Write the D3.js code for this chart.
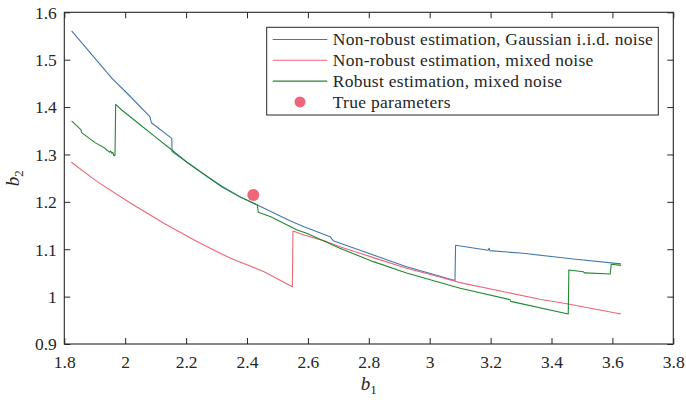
<!DOCTYPE html>
<html>
<head>
<meta charset="utf-8">
<script src="https://cdn.jsdelivr.net/npm/d3@7"></script>
<style>
  html, body { margin: 0; padding: 0; background: #fff; }
  svg { display: block; }
  text { font-family: "Liberation Serif", "DejaVu Serif", serif; fill: #262626; }
</style>
</head>
<body>
<svg id="chart" width="686" height="400"></svg>
<script>
// Estimated parameter paths (b1, b2)
const gaussianNonRobust = [
  [1.824, 1.561], [1.956, 1.461], [2.012, 1.4255], [2.081, 1.380], [2.086, 1.367],
  [2.153, 1.334], [2.154, 1.306], [2.207, 1.282], [2.262, 1.257], [2.317, 1.233],
  [2.377, 1.211], [2.456, 1.1864], [2.541, 1.160], [2.587, 1.1476], [2.673, 1.1265],
  [2.683, 1.118], [2.815, 1.088], [2.924, 1.063], [3.083, 1.034], [3.085, 1.1085],
  [3.192, 1.098], [3.195, 1.102], [3.198, 1.097], [3.307, 1.0914], [3.472, 1.0795],
  [3.628, 1.069]
];
const mixedNonRobust = [
  [1.823, 1.2835], [1.908, 1.2426], [2.018, 1.197], [2.127, 1.1548], [2.237, 1.116],
  [2.302, 1.0948], [2.346, 1.0809], [2.456, 1.0526], [2.549, 1.021], [2.551, 1.1385],
  [2.587, 1.130], [2.662, 1.116], [2.705, 1.1054], [2.815, 1.0823], [2.924, 1.060],
  [3.0, 1.047], [3.1, 1.0295], [3.362, 0.9944], [3.455, 0.9845], [3.628, 0.9634]
];
const mixedRobust = [
  [1.824, 1.371], [1.855, 1.352], [1.857, 1.346], [1.901, 1.325], [1.9337, 1.313],
  [1.9392, 1.3094], [1.9445, 1.3073], [1.9478, 1.3046], [1.9524, 1.3073], [1.9557, 1.3025],
  [1.959, 1.3046], [1.9632, 1.2974], [1.9665, 1.2989], [1.9688, 1.4059], [1.9885, 1.3938],
  [2.043, 1.3658], [2.098, 1.3375], [2.153, 1.3094], [2.207, 1.2814], [2.262, 1.2567],
  [2.317, 1.232], [2.377, 1.210], [2.434, 1.1934], [2.437, 1.178], [2.478, 1.1687],
  [2.565, 1.1406], [2.596, 1.1337], [2.705, 1.102], [2.815, 1.0738], [2.924, 1.050],
  [3.1, 1.0176], [3.264, 0.9935], [3.266, 0.9899], [3.455, 0.9634], [3.457, 1.0562],
  [3.504, 1.0526], [3.510, 1.050], [3.593, 1.0478], [3.596, 1.0683], [3.628, 1.066]
];
const trueParams = [[2.4207, 1.2145]];

const xTicks = [1.8, 2, 2.2, 2.4, 2.6, 2.8, 3, 3.2, 3.4, 3.6, 3.8];
const xTickLabels = ["1.8", "2", "2.2", "2.4", "2.6", "2.8", "3", "3.2", "3.4", "3.6", "3.8"];
const yTicks = [0.9, 1, 1.1, 1.2, 1.3, 1.4, 1.5, 1.6];
const yTickLabels = ["0.9", "1", "1.1", "1.2", "1.3", "1.4", "1.5", "1.6"];

const seriesNames = [
  "Non-robust estimation, Gaussian i.i.d. noise",
  "Non-robust estimation, mixed noise",
  "Robust estimation, mixed noise",
  "True parameters"
];
const seriesColors = ["#4477AA", "#EE6677", "#228833", "#EE6677"];

// Layout
const svg = d3.select("#chart");
const plotLeft = 64.3, plotRight = 673.3, plotTop = 12.3, plotBottom = 344;
const W = plotRight - plotLeft, H = plotBottom - plotTop;
const axisColor = "#262626";

const x = d3.scaleLinear().domain([1.8, 3.8]).range([0, W]);
const y = d3.scaleLinear().domain([0.9, 1.6]).range([H, 0]);

const g = svg.append("g").attr("transform", `translate(${plotLeft},${plotTop})`);

// Lines
const line = d3.line().x(d => x(d[0])).y(d => y(d[1]));
[gaussianNonRobust, mixedNonRobust, mixedRobust].forEach((s, i) => {
  g.append("path")
    .datum(s)
    .attr("fill", "none")
    .attr("stroke", seriesColors[i])
    .attr("stroke-width", 1.1)
    .attr("stroke-linejoin", "round")
    .attr("d", line);
});

// True parameter marker
g.selectAll("circle.truth")
  .data(trueParams)
  .join("circle")
  .attr("class", "truth")
  .attr("cx", d => x(d[0]))
  .attr("cy", d => y(d[1]))
  .attr("r", 6)
  .attr("fill", seriesColors[3]);

// Axes with inward ticks on all four sides
const tickLen = 6;
function styleAxis(sel) {
  sel.select(".domain").remove();
  sel.selectAll(".tick line").attr("stroke", axisColor).attr("stroke-width", 1);
}
const xFmt = (d, i) => xTickLabels[i];
const yFmt = (d, i) => yTickLabels[i];

const gx = g.append("g").attr("transform", `translate(0,${H})`)
  .call(d3.axisBottom(x).tickValues(xTicks).tickFormat(xFmt).tickSizeInner(-tickLen).tickSizeOuter(0));
styleAxis(gx);
gx.selectAll(".tick text")
  .attr("y", 23.7).attr("dy", 0)
  .style("font-family", '"Liberation Serif", "DejaVu Serif", serif')
  .style("font-size", "17.5px").attr("fill", axisColor);

const gxTop = g.append("g")
  .call(d3.axisTop(x).tickValues(xTicks).tickFormat("").tickSizeInner(-tickLen).tickSizeOuter(0));
styleAxis(gxTop);

const gy = g.append("g")
  .call(d3.axisLeft(y).tickValues(yTicks).tickFormat(yFmt).tickSizeInner(-tickLen).tickSizeOuter(0));
styleAxis(gy);
gy.selectAll(".tick text")
  .attr("x", -7.5).attr("dy", "0.33em")
  .style("font-family", '"Liberation Serif", "DejaVu Serif", serif')
  .style("font-size", "17.5px").attr("fill", axisColor);

const gyRight = g.append("g").attr("transform", `translate(${W},0)`)
  .call(d3.axisRight(y).tickValues(yTicks).tickFormat("").tickSizeInner(-tickLen).tickSizeOuter(0));
styleAxis(gyRight);

// Box
g.append("rect")
  .attr("x", 0).attr("y", 0).attr("width", W).attr("height", H)
  .attr("fill", "none").attr("stroke", axisColor).attr("stroke-width", 1.1);

// Axis titles
const xt = svg.append("text")
  .attr("x", plotLeft + W / 2).attr("y", 390)
  .attr("text-anchor", "middle")
  .style("font-size", "19px");
xt.append("tspan").attr("font-style", "italic").text("b");
xt.append("tspan").attr("dy", 4).style("font-size", "13px").text("1");

const yt = svg.append("text")
  .attr("transform", `translate(18.5,${plotTop + H / 2}) rotate(-90)`)
  .attr("text-anchor", "middle")
  .style("font-size", "19px");
yt.append("tspan").attr("font-style", "italic").text("b");
yt.append("tspan").attr("dy", 4).style("font-size", "13px").text("2");

// Legend
const lg = svg.append("g");
lg.append("rect")
  .attr("x", 266.7).attr("y", 27.3).attr("width", 391.6).attr("height", 87.7)
  .attr("fill", "#fff").attr("stroke", axisColor).attr("stroke-width", 1);
const rowY = [39.5, 60.3, 81.1, 101.9];
seriesNames.forEach((name, i) => {
  if (i < 3) {
    lg.append("line")
      .attr("x1", 272.7).attr("x2", 327.3)
      .attr("y1", rowY[i]).attr("y2", rowY[i])
      .attr("stroke", seriesColors[i]).attr("stroke-width", 1.1);
  } else {
    lg.append("circle").attr("cx", 300).attr("cy", rowY[i]).attr("r", 5.5)
      .attr("fill", seriesColors[i]);
  }
  lg.append("text")
    .attr("x", 332.7).attr("y", rowY[i]).attr("dy", "0.34em")
    .style("font-size", "17.5px")
    .style("letter-spacing", "0.3px")
    .text(name);
});
</script>
</body>
</html>
